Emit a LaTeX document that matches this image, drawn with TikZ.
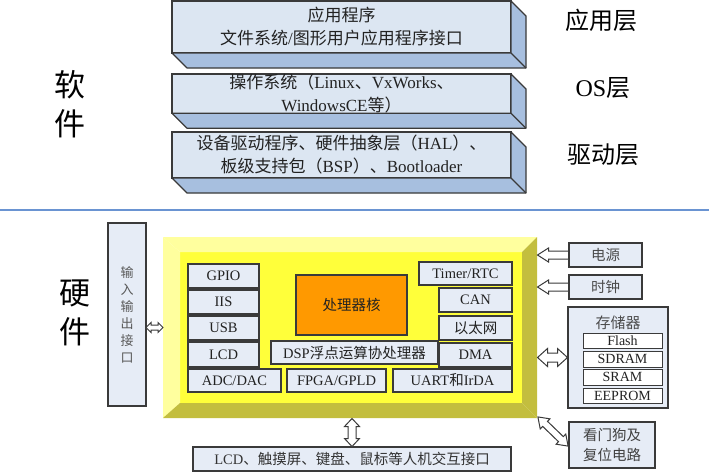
\documentclass[tikz,border=0pt]{standalone}
\usepackage{fontspec}
\setmainfont{Liberation Serif}
\newfontfamily\cjk{Noto Sans CJK SC}
\usetikzlibrary{calc}
\newcommand\zh[1]{{\cjk #1}}
\definecolor{edge}{HTML}{3A3A3A}
\definecolor{slabfront}{HTML}{DCE6F2}
\definecolor{slabside}{HTML}{A7BFDF}
\definecolor{hwfill}{HTML}{E6ECF6}
\definecolor{ylight}{HTML}{FFFF9E}
\definecolor{ymain}{HTML}{FFFF3A}
\definecolor{yolive}{HTML}{C3BE3E}
\definecolor{coreor}{HTML}{FF9900}
\definecolor{sepblue}{HTML}{6A94D2}
\definecolor{txt}{HTML}{222222}
\newcommand\slabdepth[1]{%
  \filldraw[fill=slabside, draw=edge, line width=1.2pt, line join=round]
    (#1.south west) -- ($(#1.south west)+(15,15)$) -- ($(#1.south east)+(15,15)$)
    -- ($(#1.north east)+(15,15)$) -- (#1.north east) -- (#1.south east) -- cycle;
  \draw[edge, line width=1.2pt] (#1.south east) -- ++(15,15);}
% double block arrow: centre, angle, length, half shaft, half head, head length
\newcommand\dblblock[6]{%
  \begin{scope}[shift={#1}, rotate=#2]
  \filldraw[blockarrow] ({-#3/2},0) -- ({-#3/2+#6},{-#5}) -- ({-#3/2+#6},{-#4})
    -- ({#3/2-#6},{-#4}) -- ({#3/2-#6},{-#5}) -- ({#3/2},0) -- ({#3/2-#6},{#5})
    -- ({#3/2-#6},{#4}) -- ({-#3/2+#6},{#4}) -- ({-#3/2+#6},{#5}) -- cycle;
  \end{scope}}
% single block arrow pointing left: centre, length, half shaft, half head, head length
\newcommand\sglblock[5]{%
  \begin{scope}[shift={#1}]
  \filldraw[blockarrow] ({-#2/2},0) -- ({-#2/2+#5},{-#4}) -- ({-#2/2+#5},{-#3})
    -- ({#2/2},{-#3}) -- ({#2/2},{#3}) -- ({-#2/2+#5},{#3}) -- ({-#2/2+#5},{#4}) -- cycle;
  \end{scope}}
\begin{document}
\begin{tikzpicture}[x=1pt,y=-1pt,
  slab/.style={draw=edge, fill=slabfront, line width=1.2pt, inner sep=0pt, outer sep=0pt,
    anchor=north west, minimum width=339pt, align=center, text=txt,
    font=\fontsize{17}{23}\selectfont},
  layerlbl/.style={text=black, font=\fontsize{24}{24}\selectfont},
  biglbl/.style={text=black, align=center, font=\cjk\fontsize{31}{39}\selectfont},
  hw/.style={draw=edge, fill=hwfill, line width=1.1pt, inner sep=0pt, outer sep=0pt,
    anchor=north west, text=txt, font=\fontsize{14.5}{17}\selectfont},
  memitem/.style={draw=edge, fill=white, line width=1pt, inner sep=0pt, outer sep=0pt,
    anchor=north west, minimum width=79pt, text=txt, font=\fontsize{14}{14}\selectfont},
  blockarrow/.style={draw=edge, fill=white, line width=1pt, line join=miter},
]
\useasboundingbox (0,0) rectangle (709,472);

% ---------- software layers ----------
\node[slab, minimum height=52pt] (app) at (172,1)
  {\zh{应用程序}\\\zh{文件系统}/\zh{图形用户应用程序接口}};
\slabdepth{app}
\node[slab, minimum height=39pt] (os) at (172,74)
  {\zh{操作系统（}Linux\zh{、}VxWorks\zh{、}\\WindowsCE\zh{等）}};
\slabdepth{os}
\node[slab, minimum height=46pt] (drv) at (172,132)
  {\zh{设备驱动程序、硬件抽象层（}HAL\zh{）、}\\\zh{板级支持包（}BSP\zh{）、}Bootloader};
\slabdepth{drv}

\node[layerlbl] (lapp) at (601,20) {\zh{应用层}};
\node[layerlbl] (los) at (603,88) {OS\zh{层}};
\node[layerlbl] (ldrv) at (603,155) {\zh{驱动层}};

\node[biglbl] (soft) at (70,104) {软\\件};

% separator
\draw[sepblue, line width=2.5pt] (0,210) -- (709,210);

\node[biglbl] (hard) at (75,313) {硬\\件};

% ---------- hardware ----------
\node[inner sep=0pt, outer sep=0pt, minimum width=374pt, minimum height=181pt,
  anchor=north west] (yel) at (163,237) {};
\fill[ymain] (180,252) rectangle (522,403);
\fill[ylight] (163,237) -- (537,237) -- (522,252) -- (180,252) -- cycle;
\fill[ylight] (163,237) -- (180,252) -- (180,403) -- (163,418) -- cycle;
\fill[yolive] (537,237) -- (537,418) -- (522,403) -- (522,252) -- cycle;
\fill[yolive] (163,418) -- (537,418) -- (522,403) -- (180,403) -- cycle;

\node[hw, minimum width=71pt, minimum height=24pt] (gpio) at (188,264) {GPIO};
\node[hw, minimum width=71pt, minimum height=24pt] (iis) at (188,290) {IIS};
\node[hw, minimum width=71pt, minimum height=24pt] (usb) at (188,316) {USB};
\node[hw, minimum width=71pt, minimum height=25pt] (lcd) at (188,342) {LCD};
\node[hw, minimum width=93pt, minimum height=23pt] (adc) at (188,369) {ADC/DAC};
\node[hw, minimum width=99pt, minimum height=23pt] (fpga) at (287,369) {FPGA/GPLD};
\node[hw, minimum width=119pt, minimum height=23pt] (uart) at (393,369) {UART\zh{和}IrDA};
\node[hw, minimum width=167pt, minimum height=23pt] (dsp) at (271,341) {DSP\zh{浮点运算协处理器}};
\node[hw, fill=coreor, minimum width=111pt, minimum height=60pt] (core) at (296,275) {\zh{处理器核}};
\node[hw, minimum width=93pt, minimum height=23pt] (timer) at (419,262) {Timer/RTC};
\node[hw, minimum width=73pt, minimum height=24pt] (can) at (439,288) {CAN};
\node[hw, minimum width=73pt, minimum height=24pt] (eth) at (439,316) {\zh{以太网}};
\node[hw, minimum width=73pt, minimum height=24pt] (dma) at (439,343) {DMA};

\node[hw, minimum width=38pt, minimum height=183pt, align=center, text=black!65,
  font=\cjk\fontsize{13}{17}\selectfont] (io) at (108,223) {输\\入\\输\\出\\接\\口};

\node[hw, minimum width=73pt, minimum height=24pt, text=black!70, font=\cjk\fontsize{14.5}{17}\selectfont]
  (power) at (569,243) {电源};
\node[hw, minimum width=73pt, minimum height=24pt, text=black!70, font=\cjk\fontsize{14.5}{17}\selectfont]
  (clock) at (569,275) {时钟};

\node[hw, minimum width=100pt, minimum height=101pt] (mem) at (568,307) {};
\node[text=black!70, font=\cjk\fontsize{15}{17}\selectfont, inner sep=0pt] (memt) at (618,323) {存储器};
\node[memitem, minimum height=15pt] (flash) at (583,333) {Flash};
\node[memitem, minimum height=16pt] (sdram) at (583,351) {SDRAM};
\node[memitem, minimum height=16pt] (sram) at (583,369) {SRAM};
\node[memitem, minimum height=15pt] (eeprom) at (583,388) {EEPROM};

\node[hw, minimum width=86pt, minimum height=46pt, align=center, text=black!75,
  font=\cjk\fontsize{14.5}{20}\selectfont] (wdg) at (569,422) {看门狗及\\复位电路};

\node[hw, minimum width=318pt, minimum height=24pt, text=black!80] (hmi) at (193,447)
  {LCD\zh{、触摸屏、键盘、鼠标等人机交互接口}};

% ---------- block arrows ----------
\dblblock{($(io.east |- yel.west)!0.5!(yel.west)$)}{0}{17}{2.5}{5}{5}
\sglblock{($(yel.east |- power.west)!0.5!(power.west)$)}{31}{4}{7}{11}
\sglblock{($(yel.east |- clock.west)!0.5!(clock.west)$)}{31}{4}{7}{11}
\dblblock{($(yel.east |- mem.west)!0.5!(mem.west)$)}{0}{30}{4.5}{9}{10}
\dblblock{($(yel.south -| hmi.north)!0.5!(hmi.north)$)}{90}{28}{4}{7.5}{8}
\dblblock{($(yel.south east)!0.5!(wdg.west)$)}{-44}{42}{3.5}{7}{10}
\end{tikzpicture}
\end{document}
